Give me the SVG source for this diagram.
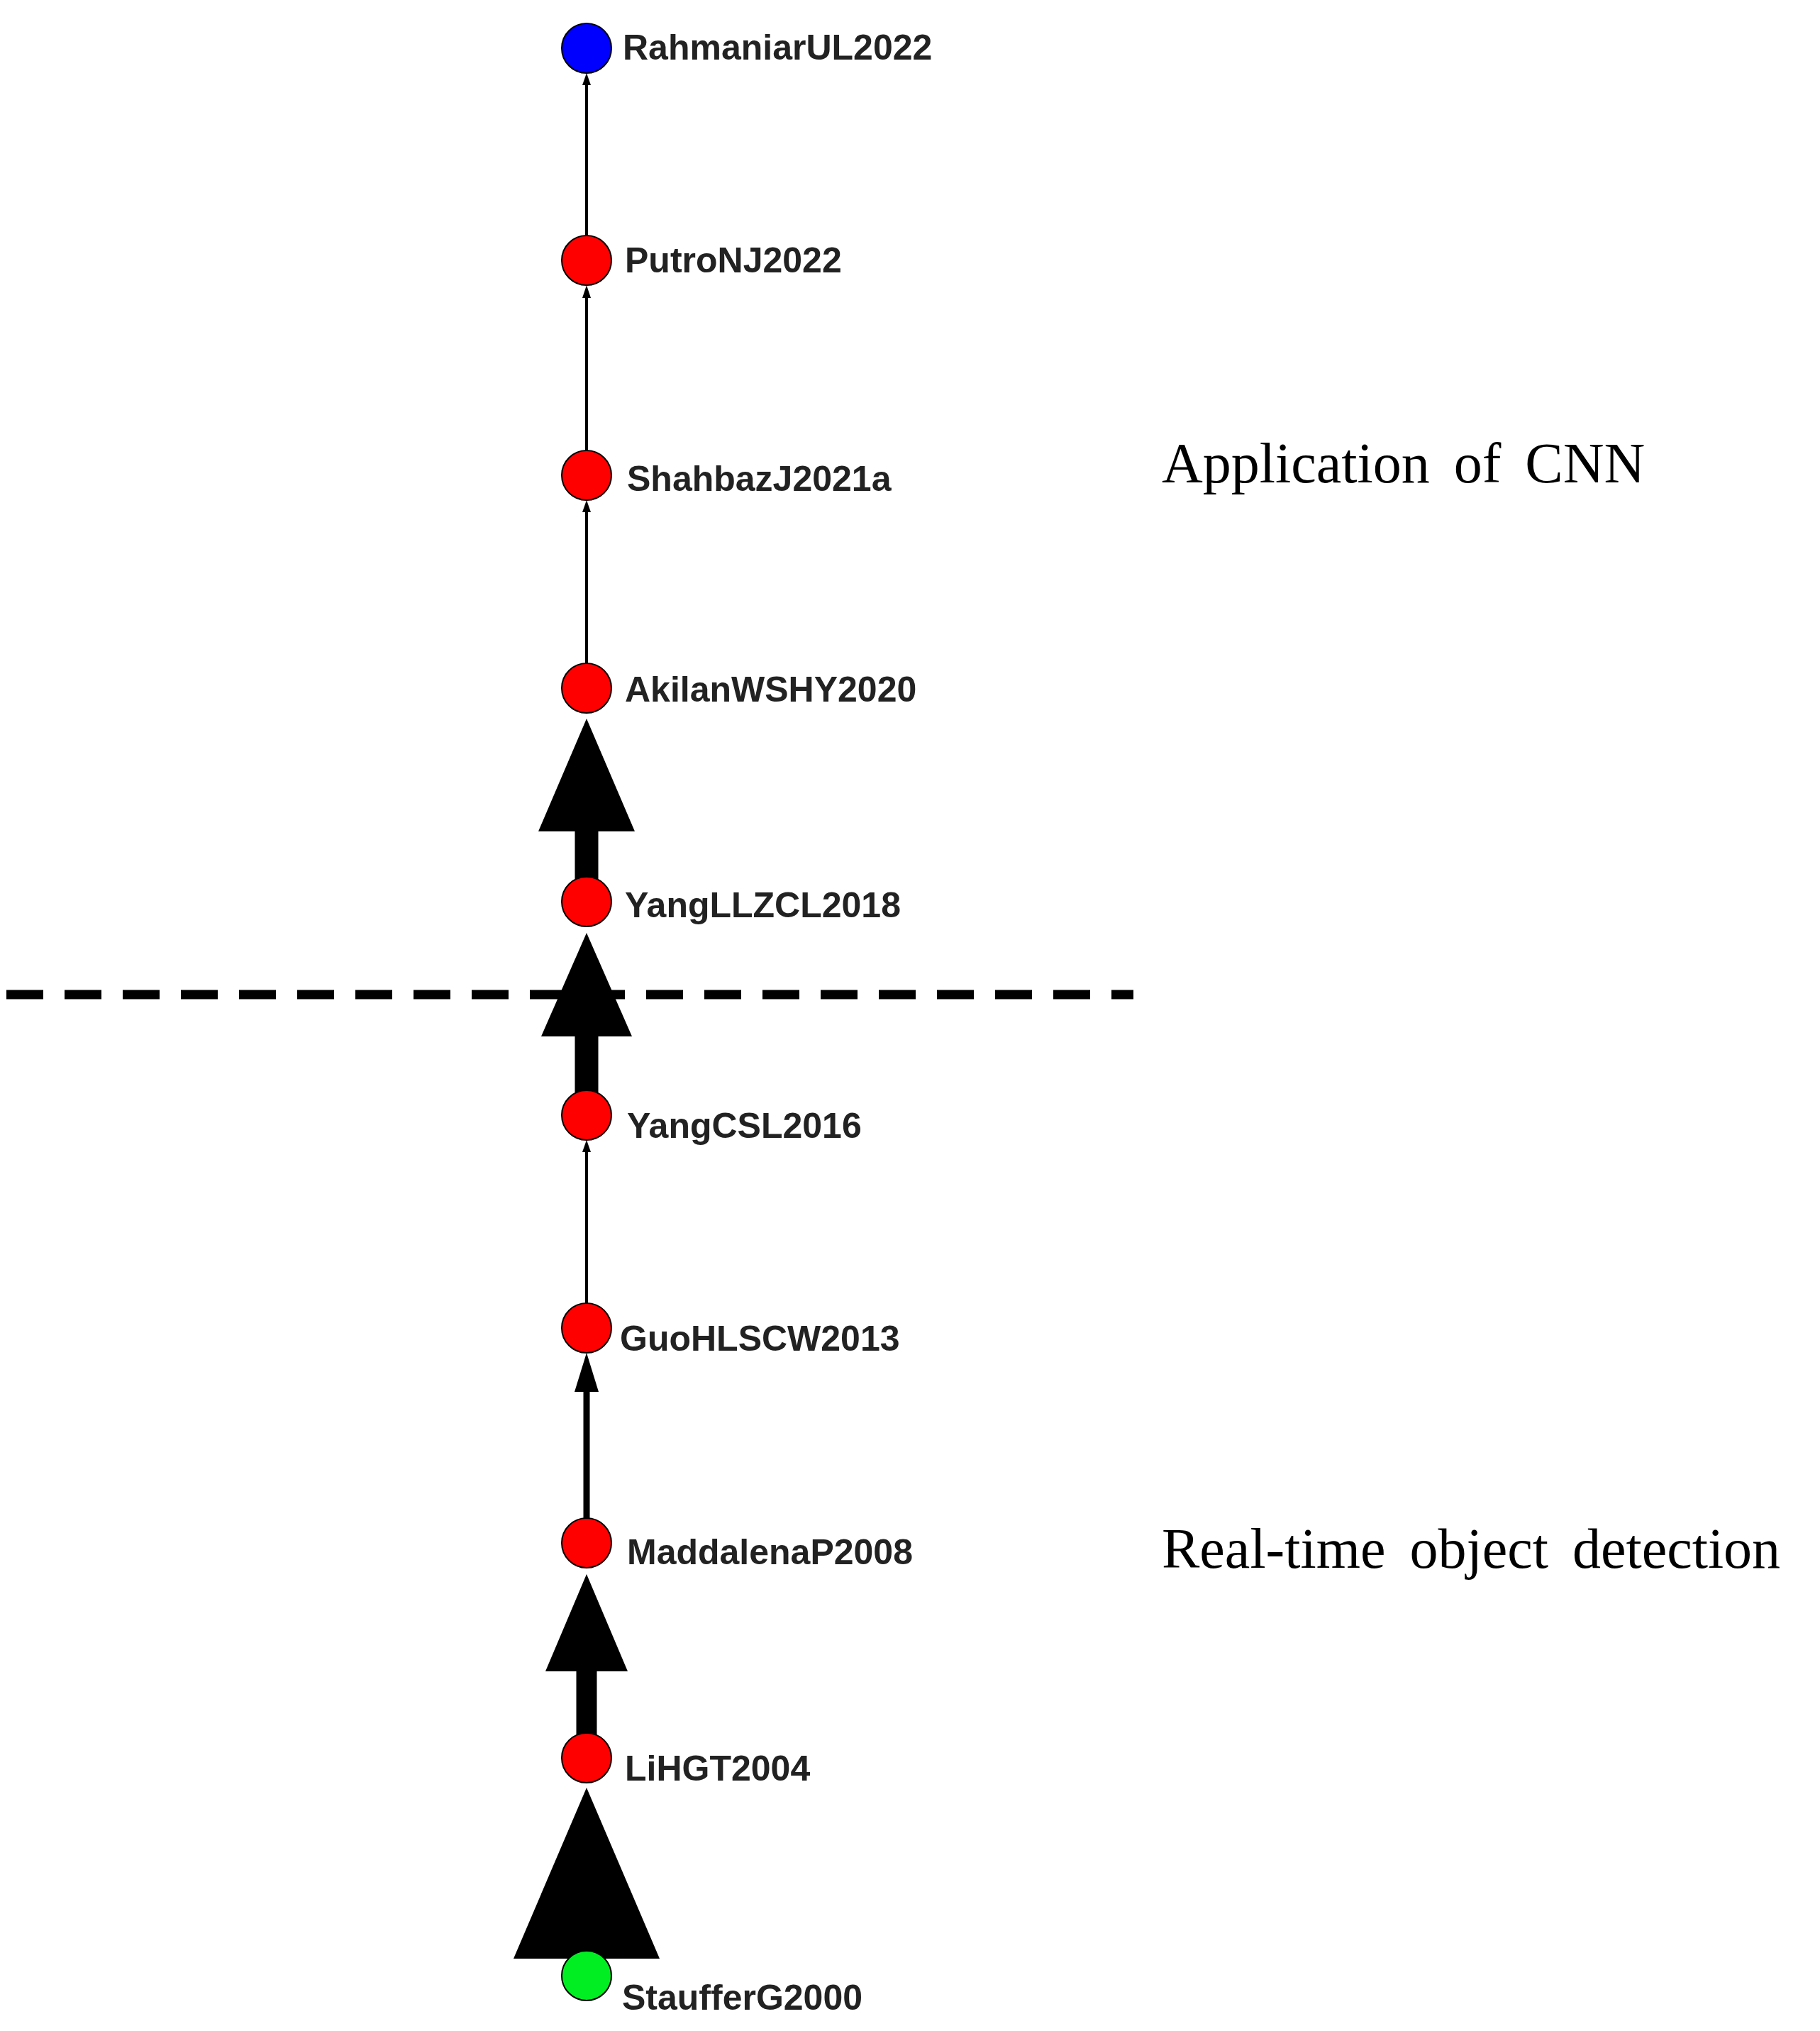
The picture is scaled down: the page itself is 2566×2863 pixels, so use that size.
<svg xmlns="http://www.w3.org/2000/svg" width="2566" height="2863" viewBox="0 0 2566 2863">
<style>
.n{stroke:#000;stroke-width:2}
.l{font-family:"Liberation Sans",Arial,sans-serif;font-weight:bold;font-size:50px;fill:#222}
.t{font-family:"Liberation Serif","Times New Roman",serif;font-size:80px;fill:#000;word-spacing:14px}
.e{fill:#000}
</style>
<rect width="2566" height="2863" fill="#fff"/>
<g id="connectors">
<rect class="e" x="825" y="118" width="4" height="214"/><polygon class="e" points="827,103 821,120 833,120"/>
<rect class="e" x="825" y="418" width="4" height="217"/><polygon class="e" points="827,402 821,420 833,420"/>
<rect class="e" x="825" y="720" width="4" height="215"/><polygon class="e" points="827,705 821,722 833,722"/>
<rect class="e" x="825" y="1622" width="4" height="215"/><polygon class="e" points="827,1607 821,1624 833,1624"/>
<rect class="e" x="822.5" y="1960" width="9" height="180"/><polygon class="e" points="827,1907 810,1962 844,1962"/>
<rect class="e" x="810.5" y="1170" width="33" height="101"/><polygon class="e" points="827,1013 759,1172 895,1172"/>
<rect class="e" x="810.5" y="1459" width="33" height="113"/><polygon class="e" points="827,1315 763,1461 891,1461"/>
<rect class="e" x="812.5" y="2354" width="29" height="124"/><polygon class="e" points="827,2219 769,2356 885,2356"/>
<polygon class="e" points="827,2520 724,2761 930,2761"/>
</g>
<line x1="9" y1="1402" x2="1598" y2="1402" stroke="#000" stroke-width="13" stroke-dasharray="52,30"/>
<g id="RahmaniarUL2022"><circle class="n" cx="827" cy="68" r="35" fill="#0000ff"/><text class="l" x="878" y="84">RahmaniarUL2022</text></g>
<g id="PutroNJ2022"><circle class="n" cx="827" cy="367" r="35" fill="#ff0000"/><text class="l" x="881" y="384">PutroNJ2022</text></g>
<g id="ShahbazJ2021a"><circle class="n" cx="827" cy="670" r="35" fill="#ff0000"/><text class="l" x="884" y="692">ShahbazJ2021a</text></g>
<g id="AkilanWSHY2020"><circle class="n" cx="827" cy="970" r="35" fill="#ff0000"/><text class="l" x="881" y="989">AkilanWSHY2020</text></g>
<g id="YangLLZCL2018"><circle class="n" cx="827" cy="1271" r="35" fill="#ff0000"/><text class="l" x="881" y="1293">YangLLZCL2018</text></g>
<g id="YangCSL2016"><circle class="n" cx="827" cy="1572" r="35" fill="#ff0000"/><text class="l" x="884" y="1604">YangCSL2016</text></g>
<g id="GuoHLSCW2013"><circle class="n" cx="827" cy="1872" r="35" fill="#ff0000"/><text class="l" x="874" y="1904">GuoHLSCW2013</text></g>
<g id="MaddalenaP2008"><circle class="n" cx="827" cy="2175" r="35" fill="#ff0000"/><text class="l" x="884" y="2205">MaddalenaP2008</text></g>
<g id="LiHGT2004"><circle class="n" cx="827" cy="2478" r="35" fill="#ff0000"/><text class="l" x="881" y="2510">LiHGT2004</text></g>
<g id="StaufferG2000"><circle class="n" cx="827" cy="2785" r="35" fill="#00ee22"/><text class="l" x="877" y="2833">StaufferG2000</text></g>
<text class="t" x="1638" y="680">Application of CNN</text>
<text class="t" x="1638" y="2210">Real-time object detection</text>
</svg>
